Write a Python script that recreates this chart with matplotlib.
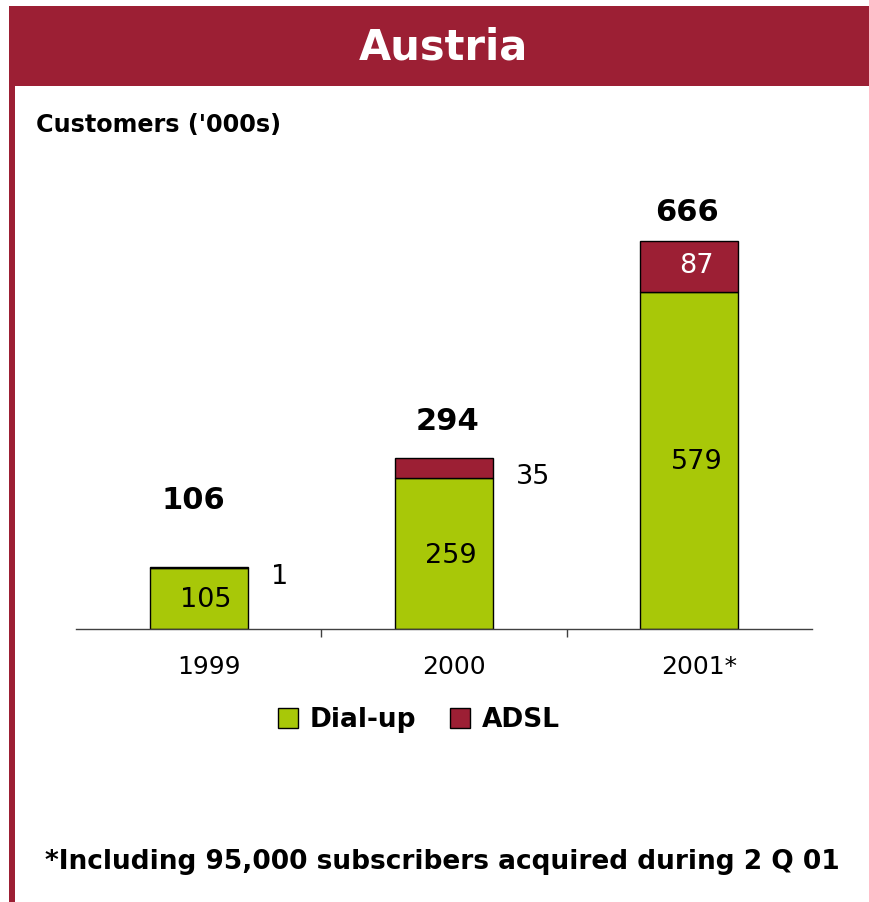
import matplotlib
matplotlib.use("Agg")
import matplotlib.pyplot as plt
from matplotlib.patches import Rectangle, Patch
from matplotlib.transforms import ScaledTranslation

# Data (customers, thousands)
years = ["1999", "2000", "2001*"]
dialup = [105, 259, 579]
adsl = [1, 35, 87]
totals = [106, 294, 666]
series_names = ["Dial-up", "ADSL"]

title = "Austria"
unit_label = "Customers ('000s)"
footnote = "*Including 95,000 subscribers acquired during 2 Q 01"

GREEN = "#A8C808"
RED = "#9C1F34"

W, H = 869, 902
fig = plt.figure(figsize=(W / 100, H / 100), dpi=100)
fig.patch.set_facecolor("white")


def fx(px):
    return px / W


def fy(py):
    return 1 - py / H


# Header band and left border
fig.add_artist(Rectangle((fx(9), fy(86)), 1 - fx(9), fy(6) - fy(86),
                         transform=fig.transFigure, facecolor=RED,
                         edgecolor="none", zorder=0))
fig.add_artist(Rectangle((fx(9), 0), fx(6), fy(86),
                         transform=fig.transFigure, facecolor=RED,
                         edgecolor="none", zorder=0))
fig.text(fx(443), fy(47), title, color="white", fontsize=30,
         fontweight="bold", ha="center", va="center")
fig.text(fx(36), fy(125), unit_label, color="black", fontsize=17.2,
         fontweight="bold", ha="left", va="center")

# Chart area
ax = fig.add_axes([fx(76), fy(629), fx(812) - fx(76), fy(180) - fy(629)])
x = list(range(len(years)))
width = 0.40
ax.bar(x, dialup, width, color=GREEN, edgecolor="black", linewidth=1, zorder=2)
ax.bar(x, adsl, width, bottom=dialup, color=RED, edgecolor="black",
       linewidth=1, zorder=2)

ax.set_xlim(-0.5, len(years) - 0.5)
ax.set_ylim(0, 771)
for side in ("top", "right", "left"):
    ax.spines[side].set_visible(False)
ax.spines["bottom"].set_color("#404040")
ax.spines["bottom"].set_linewidth(1)
ax.set_yticks([])
ax.set_xticks([i + 0.5 for i in x[:-1]], minor=True)
ax.set_xticks(x)
ax.set_xticklabels(years, fontsize=18)
ax.tick_params(axis="x", which="major", length=0, pad=19)
ax.tick_params(axis="x", which="minor", length=6, color="#404040", width=1,
               direction="out")
shift = ScaledTranslation(10 / 100, 0, fig.dpi_scale_trans)
for lbl in ax.get_xticklabels():
    lbl.set_transform(lbl.get_transform() + shift)

# Dial-up values inside the green segments
for i, v in enumerate(dialup):
    ax.annotate(str(v), (i, v / 2), xytext=(7, -2), textcoords="offset pixels",
                ha="center", va="center", fontsize=19.5, color="black", zorder=3)

# ADSL values: inside when the segment is tall enough, otherwise to the right
for i, (d, a) in enumerate(zip(dialup, adsl)):
    mid = d + a / 2
    if a > 60:
        ax.annotate(str(a), (i, mid), xytext=(7, 0), textcoords="offset pixels",
                    ha="center", va="center", fontsize=19.5, color="white",
                    zorder=3)
    else:
        ax.annotate(str(a), (i + width / 2, mid), xytext=(23, -9),
                    textcoords="offset pixels", ha="left", va="center",
                    fontsize=19.5, color="black", zorder=3)

# Totals above the stacks
total_pad = [52, 22, 14]
total_dx = [-5, 3, -2]
for i, t in enumerate(totals):
    ax.annotate(str(t), (i, t), xytext=(total_dx[i], total_pad[i]),
                textcoords="offset pixels", ha="center", va="bottom",
                fontsize=22, fontweight="bold", color="black", zorder=3)

handles = [Patch(facecolor=GREEN, edgecolor="black", linewidth=1),
           Patch(facecolor=RED, edgecolor="black", linewidth=1)]
fig.legend(handles, series_names, loc="center",
           bbox_to_anchor=(fx(419), fy(720)), ncol=2, frameon=False,
           prop={"size": 19, "weight": "bold"}, handlelength=0.75,
           handleheight=0.8, handletextpad=0.45, columnspacing=1.3)

fig.text(fx(45), fy(862), footnote, fontsize=19, fontweight="bold",
         ha="left", va="center", color="black")

fig.savefig("out.png", dpi=100, facecolor="white")
